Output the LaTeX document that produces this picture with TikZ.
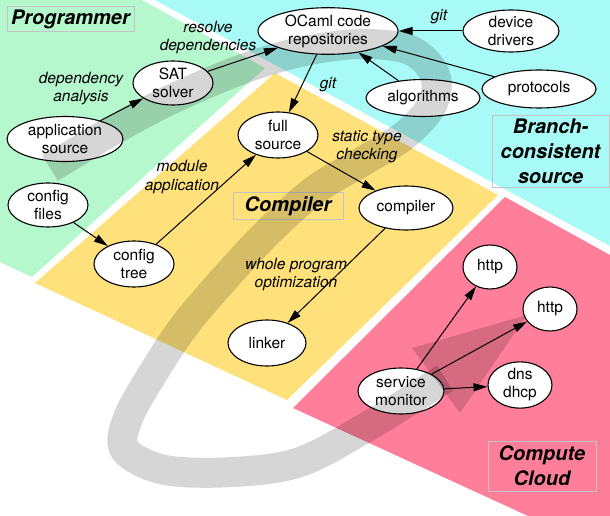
\documentclass[tikz,border=0pt]{standalone}
\usepackage{fontspec}
\setmainfont{TeX Gyre Heros}
\usepackage{xcolor}
\usetikzlibrary{calc,positioning,shapes.geometric,arrows.meta}
\definecolor{color_programmer}{HTML}{b6f8cd}
\definecolor{color_branch}{HTML}{a8faf6}
\definecolor{color_compiler}{HTML}{fee17a}
\definecolor{color_cloud}{HTML}{ff7f9a}
\definecolor{color_title_border}{HTML}{c3c3c3}

\begin{document}
\begin{tikzpicture}[x=1pt,y=-1pt,
	every node/.style={font=\fontsize{15.5pt}{18pt}\selectfont},
	stage/.style={ellipse,draw,fill=white,line width=1.1pt,inner sep=0pt,align=center},
	flow/.style={line width=1pt,-{Triangle[length=14pt,width=8pt]}},
	note/.style={align=center,font=\fontsize{15.5pt}{18pt}\selectfont\itshape},
	title/.style={draw=color_title_border,line width=1pt,inner sep=0pt,align=center,
		font=\fontsize{20pt}{25pt}\selectfont\bfseries\itshape}]
	\useasboundingbox (0,0) rectangle (610,516);
	% Points
	\coordinate (HL) at (412,348);
	\coordinate (HR) at (460,413);
	\coordinate (HT) at (527,315);

	% Regions
	\fill[color_programmer] (0,0) -- (142,0) -- (265,68) -- (32,277) -- (0,262) -- cycle;
	\fill[color_branch] (155,0) -- (610,0) -- (610,246) -- cycle;
	\fill[color_compiler] (275,73) -- (498,195) -- (287,400) -- (35,283) -- cycle;
	\fill[color_cloud] (505,197) -- (610,255) -- (610,516) -- (528,516) -- (293,408) -- cycle;

	% Titles
	\node[title,minimum width=127pt,minimum height=25pt] (programmer) at (70.5,19.5) {Programmer};
	\node[title,minimum width=110pt,minimum height=27pt] (compilerbox) at (288,206) {Compiler};
	\node[title,minimum width=117pt,minimum height=71pt] (branch) at (550.5,151.5) {Branch-\\consistent\\source};
	\node[title,minimum width=108pt,minimum height=50pt] (cloud) at (542,466) {Compute\\Cloud};

	% Stages
	\node[stage,minimum width=140pt,minimum height=44pt] (repos) at (328,31) {OCaml code\\repositories};
	\node[stage,minimum width=96pt,minimum height=42pt] (drivers) at (511,31) {device\\drivers};
	\node[stage,minimum width=114pt,minimum height=38pt] (protocols) at (539,89) {protocols};
	\node[stage,minimum width=114pt,minimum height=37pt] (algorithms) at (423,98) {algorithms};
	\node[stage,minimum width=80pt,minimum height=44pt] (sat) at (173,83) {SAT\\solver};
	\node[stage,minimum width=116pt,minimum height=45pt] (appsrc) at (65,139) {application\\source};
	\node[stage,minimum width=80pt,minimum height=44pt] (cfgfiles) at (48,205) {config\\files};
	\node[stage,minimum width=80pt,minimum height=46pt] (fullsrc) at (278,135) {full\\source};
	\node[stage,minimum width=80pt,minimum height=46pt] (cfgtree) at (134,264) {config\\tree};
	\node[stage,minimum width=94pt,minimum height=44pt] (compiler) at (406,208) {compiler};
	\node[stage,minimum width=78pt,minimum height=46pt] (linker) at (267,343) {linker};
	\node[stage,minimum width=54pt,minimum height=44pt] (httpa) at (490,267) {http};
	\node[stage,minimum width=54pt,minimum height=44pt] (httpb) at (550,309) {http};
	\node[stage,minimum width=64pt,minimum height=44pt] (dns) at (520,385) {dns\\dhcp};
	\node[stage,minimum width=86pt,minimum height=46pt] (monitor) at (401,391) {service\\monitor};

	% Flows
	\draw[flow] (appsrc) -- (sat);
	\draw[flow] (sat) -- (repos);
	\draw[flow] (drivers) -- (repos);
	\draw[flow] (algorithms) -- (repos);
	\draw[flow] (protocols) -- (repos);
	\draw[flow] (repos) -- (fullsrc);
	\draw[flow] (cfgfiles) -- (cfgtree);
	\draw[flow] (cfgtree) -- (fullsrc);
	\draw[flow] (fullsrc) -- (compiler);
	\draw[flow] (compiler) -- (linker);
	\draw[flow] (monitor) -- (httpa);
	\draw[flow] (monitor) -- (httpb);
	\draw[flow] (monitor) -- (dns);

	% Labels
	\node[note] (lblresolve) at (208,38) {resolve\\dependencies};
	\node[note] (lblanalysis) at (81,89) {dependency\\analysis};
	\node[note] (lblgitdrv) at (439,17) {git};
	\node[note] (lblgitrepo) at (328,85) {git};
	\node[note] (lblstatic) at (367,147) {static type\\checking};
	\node[note] (lblmodule) at (182,177) {module\\application};
	\node[note] (lblwhole) at (296,274) {whole program\\optimization};

	% Gray band
	\draw[line width=30pt,black,draw opacity=0.16]
		plot[smooth,tension=0.55] coordinates {
			(50,168) (110,132) (170,100) (240,70) (300,52) (360,44) (410,50)
			(435,75) (432,105) (405,135) (365,160) (315,190) (268,232)
			(225,278) (185,325) (155,370) (128,418) (125,450) (165,470)
			(233,472) (300,462) (370,425) (445,378)}
		;
	\fill[black,fill opacity=0.16]
		(HL) -- (HT) -- (HR) -- cycle
		;
\end{tikzpicture}
\end{document}
